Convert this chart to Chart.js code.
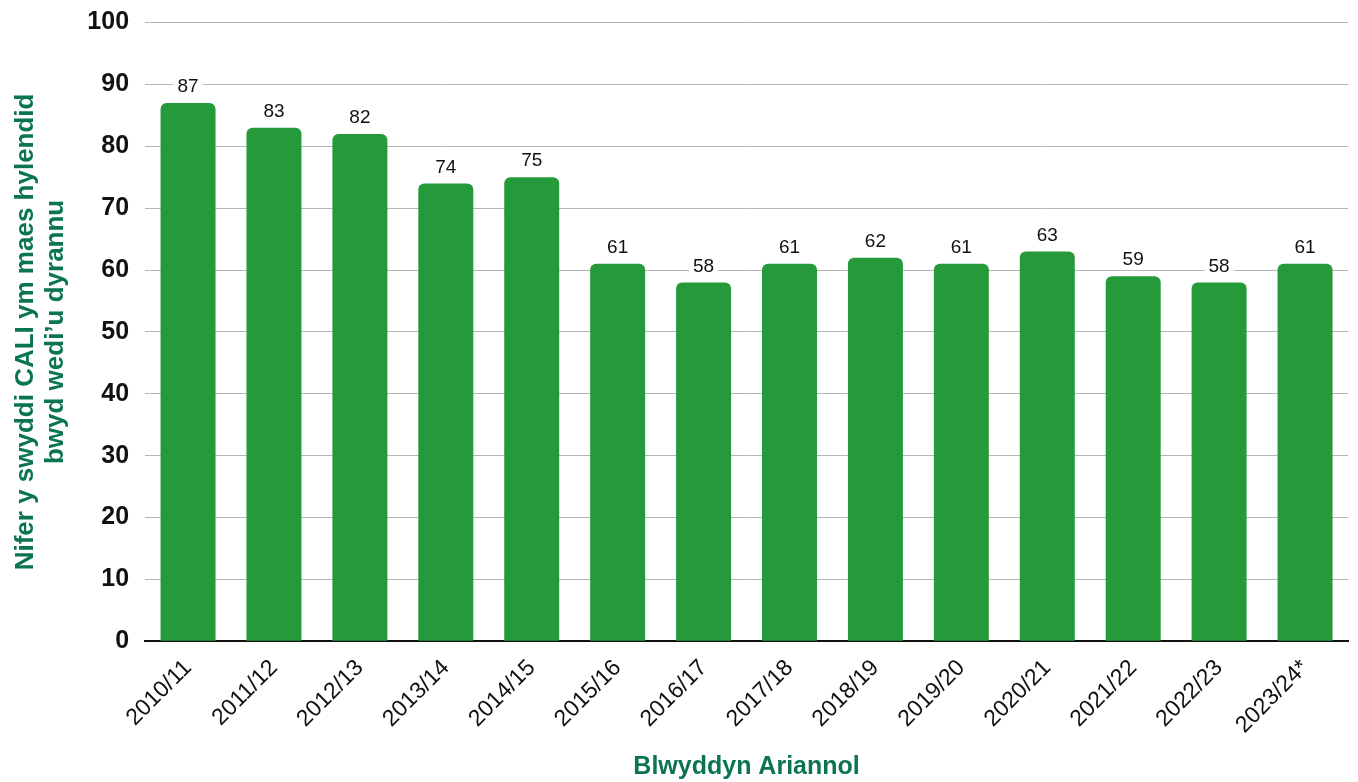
<!DOCTYPE html>
<html lang="cy">
<head>
<meta charset="UTF-8">
<title>Nifer y swyddi CALI</title>
<script src="https://cdn.jsdelivr.net/npm/chart.js"></script>
<style>
  html, body { margin: 0; padding: 0; background: #fff; overflow: hidden; }
  #wrap { width: 1358px; height: 788px; margin-top: -6px; }
</style>
</head>
<body>
<div id="wrap"><canvas id="chart"></canvas></div>
<script>
// data
const years = ['2010/11', '2011/12', '2012/13', '2013/14', '2014/15', '2015/16', '2016/17',
               '2017/18', '2018/19', '2019/20', '2020/21', '2021/22', '2022/23', '2023/24*'];
const posts = [87, 83, 82, 74, 75, 61, 58, 61, 62, 61, 63, 59, 58, 61];
const yTicks = [0, 10, 20, 30, 40, 50, 60, 70, 80, 90, 100];

const FONT = "'Liberation Sans', Arial, sans-serif";
const GREEN = '#259a3b';
const TITLE = '#0b7553';

// value labels on top of bars, with a white box behind so gridlines break
const barLabels = {
  id: 'barLabels',
  afterDatasetsDraw(chart) {
    const ctx = chart.ctx;
    const meta = chart.getDatasetMeta(0);
    ctx.save();
    ctx.font = '19px ' + FONT;
    ctx.textAlign = 'center';
    ctx.textBaseline = 'middle';
    meta.data.forEach((bar, i) => {
      const txt = String(posts[i]);
      const w = ctx.measureText(txt).width + 8;
      const y = bar.y - 17;
      ctx.fillStyle = '#fff';
      ctx.fillRect(bar.x - w / 2, y - 10, w, 20);
      ctx.fillStyle = '#111';
      ctx.fillText(txt, bar.x, y + 1);
    });
    ctx.restore();
  }
};

new Chart(document.getElementById('chart'), {
  type: 'bar',
  data: {
    labels: years,
    datasets: [{
      data: posts,
      backgroundColor: GREEN,
      borderRadius: { topLeft: 6, topRight: 6 },
      borderSkipped: 'bottom',
      categoryPercentage: 1,
      barPercentage: 0.64
    }]
  },
  options: {
    responsive: true,
    maintainAspectRatio: false,
    animation: false,
    layout: { padding: { top: 0, right: 10, left: 10, bottom: 0 } },
    plugins: { legend: { display: false }, tooltip: { enabled: false } },
    scales: {
      x: {
        grid: { display: false, drawTicks: false },
        border: { display: true, color: '#111', width: 2 },
        ticks: {
          minRotation: 45, maxRotation: 45, padding: 13,
          color: '#111', font: { family: FONT, size: 23 }
        },
        title: {
          display: true, text: 'Blwyddyn Ariannol', color: TITLE,
          font: { family: FONT, size: 25, weight: 'bold' }, padding: { top: 0, bottom: 0 }
        }
      },
      y: {
        min: 0, max: 100,
        afterBuildTicks(axis) { axis.ticks = yTicks.map(v => ({ value: v })); },
        grid: { color: '#b5b5b5', lineWidth: 1, drawTicks: false },
        border: { display: false },
        ticks: {
          padding: 16, color: '#111',
          font: { family: FONT, size: 25, weight: 'bold', lineHeight: 1 }
        },
        title: {
          display: true,
          text: ['Nifer y swyddi CALI ym maes hylendid', 'bwyd wedi\u2019u dyrannu'],
          color: TITLE, font: { family: FONT, size: 26, weight: 'bold', lineHeight: 1.18 },
          padding: { top: 0, bottom: 0 }
        }
      }
    }
  },
  plugins: [barLabels]
});
</script>
</body>
</html>
